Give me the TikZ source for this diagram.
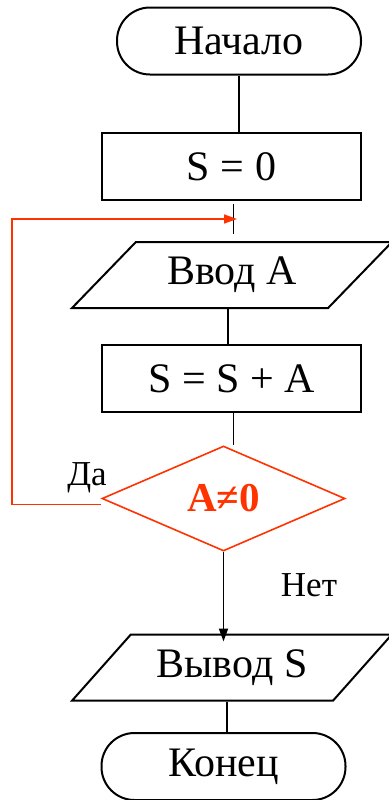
\documentclass[tikz,border=0pt]{standalone}
\usepackage{fontspec}
\setmainfont{Liberation Serif}
\usepackage{tikz}
\usetikzlibrary{arrows.meta, positioning, shapes.geometric}
\definecolor{alarm}{RGB}{255,51,0}
\newcommand{\bigtext}{\fontsize{21}{25}\selectfont}

\begin{document}
\begin{tikzpicture}[
  x=0.5pt, y=-0.5pt,
  terminal/.style={draw, line width=1pt, rounded corners=16.5pt, minimum width=122pt, minimum height=33.5pt, font=\bigtext},
  block/.style={draw, line width=1pt, minimum width=129.5pt, minimum height=33.5pt, font=\bigtext},
  data/.style={draw, line width=1pt, trapezium, trapezium left angle=46, trapezium right angle=134, trapezium stretches=true, minimum width=160pt, minimum height=33pt, font=\bigtext},
  decision/.style={draw=alarm, line width=0.8pt, diamond, shape aspect=2.3, inner sep=0pt, minimum width=121.5pt, minimum height=52.5pt, text=alarm, font=\fontsize{20.5}{24}\selectfont\bfseries},
  flow/.style={draw, line width=0.9pt},
  back/.style={draw=alarm, line width=0.8pt, -{Triangle[length=6.5pt, width=4.5pt]}},
  tag/.style={font=\fontsize{17.5}{21}\selectfont}
]
\useasboundingbox (0,0) rectangle (388,800);

% blocks of the scheme
\node[terminal] (start) at (239,41) {Начало};
\node[block] (init) at (231.5,166.5) {S = 0};
\node[data] (input) at (232,275) {Ввод А};
\node[block] (sum) at (231.5,378.5) {S = S + A};
\node[decision] (check) at (223.5,498.5) {A≠0};
\node[data] (output) at (232,667.5) {Вывод S};
\node[terminal] (stop) at (223.5,766.5) {Конец};

\coordinate (corner) at (12,219);
\coordinate (join) at (237,219);

\node[tag] (yes) at (87,478) {Да};
\node[tag] (no) at (309,585) {Нет};

% connectors
\draw[flow] (start.south) -- (start.south |- init.north);
\draw[flow, shorten <=1.5pt, shorten >=3.5pt] ([xshift=1pt]init.south) -- ([xshift=1pt]init.south |- input.north);
\draw[flow] ([xshift=-2pt]input.south) -- ([xshift=-2pt]input.south |- sum.north);
\draw[flow] ([xshift=1pt]sum.south) -- ([xshift=1pt]sum.south |- check.north);
\draw[flow, -{Triangle[length=6.5pt, width=4.5pt]}, shorten >=-4pt] (check.south) -- (check.south |- output.north);
\draw[flow] ([xshift=-2.5pt]output.south) -- ([xshift=-2.5pt]output.south |- stop.north);
\draw[back] ([yshift=-3pt]check.west) -| (corner) -- (join);
\end{tikzpicture}
\end{document}
